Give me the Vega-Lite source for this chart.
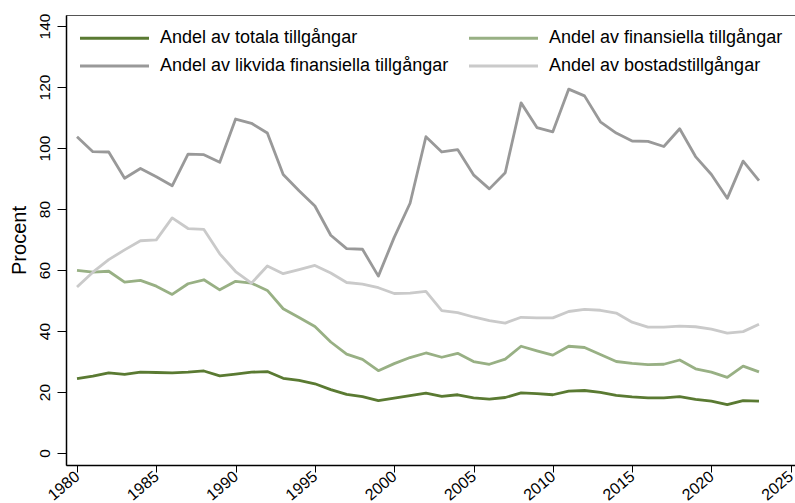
{
  "$schema": "https://vega.github.io/schema/vega-lite/v6.json",
  "width": 731,
  "height": 450,
  "autosize": {"type": "none"},
  "padding": {"left": 66, "top": 15, "right": 0, "bottom": 38},
  "background": "white",
  "config": {
    "view": {"stroke": "#555555", "strokeWidth": 1},
    "font": "Liberation Sans"
  },
  "data": {
    "values": [
      {"year":1980,"serie":"Andel av totala tillgångar","value":24.4},
      {"year":1981,"serie":"Andel av totala tillgångar","value":25.2},
      {"year":1982,"serie":"Andel av totala tillgångar","value":26.3},
      {"year":1983,"serie":"Andel av totala tillgångar","value":25.8},
      {"year":1984,"serie":"Andel av totala tillgångar","value":26.5},
      {"year":1985,"serie":"Andel av totala tillgångar","value":26.4},
      {"year":1986,"serie":"Andel av totala tillgångar","value":26.3},
      {"year":1987,"serie":"Andel av totala tillgångar","value":26.5},
      {"year":1988,"serie":"Andel av totala tillgångar","value":26.9},
      {"year":1989,"serie":"Andel av totala tillgångar","value":25.3},
      {"year":1990,"serie":"Andel av totala tillgångar","value":25.9},
      {"year":1991,"serie":"Andel av totala tillgångar","value":26.5},
      {"year":1992,"serie":"Andel av totala tillgångar","value":26.7},
      {"year":1993,"serie":"Andel av totala tillgångar","value":24.5},
      {"year":1994,"serie":"Andel av totala tillgångar","value":23.8},
      {"year":1995,"serie":"Andel av totala tillgångar","value":22.7},
      {"year":1996,"serie":"Andel av totala tillgångar","value":20.8},
      {"year":1997,"serie":"Andel av totala tillgångar","value":19.2},
      {"year":1998,"serie":"Andel av totala tillgångar","value":18.5},
      {"year":1999,"serie":"Andel av totala tillgångar","value":17.2},
      {"year":2000,"serie":"Andel av totala tillgångar","value":18.0},
      {"year":2001,"serie":"Andel av totala tillgångar","value":18.8},
      {"year":2002,"serie":"Andel av totala tillgångar","value":19.6},
      {"year":2003,"serie":"Andel av totala tillgångar","value":18.6},
      {"year":2004,"serie":"Andel av totala tillgångar","value":19.1},
      {"year":2005,"serie":"Andel av totala tillgångar","value":18.1},
      {"year":2006,"serie":"Andel av totala tillgångar","value":17.7},
      {"year":2007,"serie":"Andel av totala tillgångar","value":18.2},
      {"year":2008,"serie":"Andel av totala tillgångar","value":19.7},
      {"year":2009,"serie":"Andel av totala tillgångar","value":19.5},
      {"year":2010,"serie":"Andel av totala tillgångar","value":19.1},
      {"year":2011,"serie":"Andel av totala tillgångar","value":20.3},
      {"year":2012,"serie":"Andel av totala tillgångar","value":20.5},
      {"year":2013,"serie":"Andel av totala tillgångar","value":19.9},
      {"year":2014,"serie":"Andel av totala tillgångar","value":18.9},
      {"year":2015,"serie":"Andel av totala tillgångar","value":18.4},
      {"year":2016,"serie":"Andel av totala tillgångar","value":18.1},
      {"year":2017,"serie":"Andel av totala tillgångar","value":18.1},
      {"year":2018,"serie":"Andel av totala tillgångar","value":18.5},
      {"year":2019,"serie":"Andel av totala tillgångar","value":17.6},
      {"year":2020,"serie":"Andel av totala tillgångar","value":17.0},
      {"year":2021,"serie":"Andel av totala tillgångar","value":15.9},
      {"year":2022,"serie":"Andel av totala tillgångar","value":17.2},
      {"year":2023,"serie":"Andel av totala tillgångar","value":17.0},
      {"year":1980,"serie":"Andel av finansiella tillgångar","value":59.9},
      {"year":1981,"serie":"Andel av finansiella tillgångar","value":59.3},
      {"year":1982,"serie":"Andel av finansiella tillgångar","value":59.6},
      {"year":1983,"serie":"Andel av finansiella tillgångar","value":56.0},
      {"year":1984,"serie":"Andel av finansiella tillgångar","value":56.6},
      {"year":1985,"serie":"Andel av finansiella tillgångar","value":54.7},
      {"year":1986,"serie":"Andel av finansiella tillgångar","value":52.0},
      {"year":1987,"serie":"Andel av finansiella tillgångar","value":55.5},
      {"year":1988,"serie":"Andel av finansiella tillgångar","value":56.8},
      {"year":1989,"serie":"Andel av finansiella tillgångar","value":53.5},
      {"year":1990,"serie":"Andel av finansiella tillgångar","value":56.3},
      {"year":1991,"serie":"Andel av finansiella tillgångar","value":55.7},
      {"year":1992,"serie":"Andel av finansiella tillgångar","value":53.3},
      {"year":1993,"serie":"Andel av finansiella tillgångar","value":47.3},
      {"year":1994,"serie":"Andel av finansiella tillgångar","value":44.4},
      {"year":1995,"serie":"Andel av finansiella tillgångar","value":41.5},
      {"year":1996,"serie":"Andel av finansiella tillgångar","value":36.4},
      {"year":1997,"serie":"Andel av finansiella tillgångar","value":32.4},
      {"year":1998,"serie":"Andel av finansiella tillgångar","value":30.7},
      {"year":1999,"serie":"Andel av finansiella tillgångar","value":27.0},
      {"year":2000,"serie":"Andel av finansiella tillgångar","value":29.3},
      {"year":2001,"serie":"Andel av finansiella tillgångar","value":31.3},
      {"year":2002,"serie":"Andel av finansiella tillgångar","value":32.8},
      {"year":2003,"serie":"Andel av finansiella tillgångar","value":31.4},
      {"year":2004,"serie":"Andel av finansiella tillgångar","value":32.7},
      {"year":2005,"serie":"Andel av finansiella tillgångar","value":30.0},
      {"year":2006,"serie":"Andel av finansiella tillgångar","value":29.1},
      {"year":2007,"serie":"Andel av finansiella tillgångar","value":30.8},
      {"year":2008,"serie":"Andel av finansiella tillgångar","value":35.0},
      {"year":2009,"serie":"Andel av finansiella tillgångar","value":33.5},
      {"year":2010,"serie":"Andel av finansiella tillgångar","value":32.1},
      {"year":2011,"serie":"Andel av finansiella tillgångar","value":35.0},
      {"year":2012,"serie":"Andel av finansiella tillgångar","value":34.6},
      {"year":2013,"serie":"Andel av finansiella tillgångar","value":32.3},
      {"year":2014,"serie":"Andel av finansiella tillgångar","value":30.0},
      {"year":2015,"serie":"Andel av finansiella tillgångar","value":29.4},
      {"year":2016,"serie":"Andel av finansiella tillgångar","value":29.0},
      {"year":2017,"serie":"Andel av finansiella tillgångar","value":29.1},
      {"year":2018,"serie":"Andel av finansiella tillgångar","value":30.5},
      {"year":2019,"serie":"Andel av finansiella tillgångar","value":27.6},
      {"year":2020,"serie":"Andel av finansiella tillgångar","value":26.5},
      {"year":2021,"serie":"Andel av finansiella tillgångar","value":24.8},
      {"year":2022,"serie":"Andel av finansiella tillgångar","value":28.5},
      {"year":2023,"serie":"Andel av finansiella tillgångar","value":26.6},
      {"year":1980,"serie":"Andel av likvida finansiella tillgångar","value":103.7},
      {"year":1981,"serie":"Andel av likvida finansiella tillgångar","value":98.8},
      {"year":1982,"serie":"Andel av likvida finansiella tillgångar","value":98.7},
      {"year":1983,"serie":"Andel av likvida finansiella tillgångar","value":90.1},
      {"year":1984,"serie":"Andel av likvida finansiella tillgångar","value":93.3},
      {"year":1985,"serie":"Andel av likvida finansiella tillgångar","value":90.6},
      {"year":1986,"serie":"Andel av likvida finansiella tillgångar","value":87.6},
      {"year":1987,"serie":"Andel av likvida finansiella tillgångar","value":98.0},
      {"year":1988,"serie":"Andel av likvida finansiella tillgångar","value":97.8},
      {"year":1989,"serie":"Andel av likvida finansiella tillgångar","value":95.3},
      {"year":1990,"serie":"Andel av likvida finansiella tillgångar","value":109.5},
      {"year":1991,"serie":"Andel av likvida finansiella tillgångar","value":108.1},
      {"year":1992,"serie":"Andel av likvida finansiella tillgångar","value":104.9},
      {"year":1993,"serie":"Andel av likvida finansiella tillgångar","value":91.3},
      {"year":1994,"serie":"Andel av likvida finansiella tillgångar","value":86.0},
      {"year":1995,"serie":"Andel av likvida finansiella tillgångar","value":81.0},
      {"year":1996,"serie":"Andel av likvida finansiella tillgångar","value":71.4},
      {"year":1997,"serie":"Andel av likvida finansiella tillgångar","value":67.0},
      {"year":1998,"serie":"Andel av likvida finansiella tillgångar","value":66.8},
      {"year":1999,"serie":"Andel av likvida finansiella tillgångar","value":58.0},
      {"year":2000,"serie":"Andel av likvida finansiella tillgångar","value":70.7},
      {"year":2001,"serie":"Andel av likvida finansiella tillgångar","value":81.9},
      {"year":2002,"serie":"Andel av likvida finansiella tillgångar","value":103.7},
      {"year":2003,"serie":"Andel av likvida finansiella tillgångar","value":98.7},
      {"year":2004,"serie":"Andel av likvida finansiella tillgångar","value":99.5},
      {"year":2005,"serie":"Andel av likvida finansiella tillgångar","value":91.2},
      {"year":2006,"serie":"Andel av likvida finansiella tillgångar","value":86.6},
      {"year":2007,"serie":"Andel av likvida finansiella tillgångar","value":91.9},
      {"year":2008,"serie":"Andel av likvida finansiella tillgångar","value":114.8},
      {"year":2009,"serie":"Andel av likvida finansiella tillgångar","value":106.7},
      {"year":2010,"serie":"Andel av likvida finansiella tillgångar","value":105.3},
      {"year":2011,"serie":"Andel av likvida finansiella tillgångar","value":119.3},
      {"year":2012,"serie":"Andel av likvida finansiella tillgångar","value":117.1},
      {"year":2013,"serie":"Andel av likvida finansiella tillgångar","value":108.6},
      {"year":2014,"serie":"Andel av likvida finansiella tillgångar","value":104.9},
      {"year":2015,"serie":"Andel av likvida finansiella tillgångar","value":102.3},
      {"year":2016,"serie":"Andel av likvida finansiella tillgångar","value":102.2},
      {"year":2017,"serie":"Andel av likvida finansiella tillgångar","value":100.5},
      {"year":2018,"serie":"Andel av likvida finansiella tillgångar","value":106.3},
      {"year":2019,"serie":"Andel av likvida finansiella tillgångar","value":97.2},
      {"year":2020,"serie":"Andel av likvida finansiella tillgångar","value":91.3},
      {"year":2021,"serie":"Andel av likvida finansiella tillgångar","value":83.5},
      {"year":2022,"serie":"Andel av likvida finansiella tillgångar","value":95.7},
      {"year":2023,"serie":"Andel av likvida finansiella tillgångar","value":89.3},
      {"year":1980,"serie":"Andel av bostadstillgångar","value":54.4},
      {"year":1981,"serie":"Andel av bostadstillgångar","value":59.3},
      {"year":1982,"serie":"Andel av bostadstillgångar","value":63.4},
      {"year":1983,"serie":"Andel av bostadstillgångar","value":66.6},
      {"year":1984,"serie":"Andel av bostadstillgångar","value":69.6},
      {"year":1985,"serie":"Andel av bostadstillgångar","value":69.9},
      {"year":1986,"serie":"Andel av bostadstillgångar","value":77.1},
      {"year":1987,"serie":"Andel av bostadstillgångar","value":73.6},
      {"year":1988,"serie":"Andel av bostadstillgångar","value":73.3},
      {"year":1989,"serie":"Andel av bostadstillgångar","value":65.3},
      {"year":1990,"serie":"Andel av bostadstillgångar","value":59.5},
      {"year":1991,"serie":"Andel av bostadstillgångar","value":55.7},
      {"year":1992,"serie":"Andel av bostadstillgångar","value":61.3},
      {"year":1993,"serie":"Andel av bostadstillgångar","value":58.8},
      {"year":1994,"serie":"Andel av bostadstillgångar","value":60.1},
      {"year":1995,"serie":"Andel av bostadstillgångar","value":61.5},
      {"year":1996,"serie":"Andel av bostadstillgångar","value":59.0},
      {"year":1997,"serie":"Andel av bostadstillgångar","value":55.9},
      {"year":1998,"serie":"Andel av bostadstillgångar","value":55.4},
      {"year":1999,"serie":"Andel av bostadstillgångar","value":54.2},
      {"year":2000,"serie":"Andel av bostadstillgångar","value":52.3},
      {"year":2001,"serie":"Andel av bostadstillgångar","value":52.4},
      {"year":2002,"serie":"Andel av bostadstillgångar","value":53.0},
      {"year":2003,"serie":"Andel av bostadstillgångar","value":46.7},
      {"year":2004,"serie":"Andel av bostadstillgångar","value":46.0},
      {"year":2005,"serie":"Andel av bostadstillgångar","value":44.6},
      {"year":2006,"serie":"Andel av bostadstillgångar","value":43.4},
      {"year":2007,"serie":"Andel av bostadstillgångar","value":42.6},
      {"year":2008,"serie":"Andel av bostadstillgångar","value":44.5},
      {"year":2009,"serie":"Andel av bostadstillgångar","value":44.3},
      {"year":2010,"serie":"Andel av bostadstillgångar","value":44.3},
      {"year":2011,"serie":"Andel av bostadstillgångar","value":46.4},
      {"year":2012,"serie":"Andel av bostadstillgångar","value":47.1},
      {"year":2013,"serie":"Andel av bostadstillgångar","value":46.8},
      {"year":2014,"serie":"Andel av bostadstillgångar","value":45.9},
      {"year":2015,"serie":"Andel av bostadstillgångar","value":42.9},
      {"year":2016,"serie":"Andel av bostadstillgångar","value":41.3},
      {"year":2017,"serie":"Andel av bostadstillgångar","value":41.3},
      {"year":2018,"serie":"Andel av bostadstillgångar","value":41.6},
      {"year":2019,"serie":"Andel av bostadstillgångar","value":41.4},
      {"year":2020,"serie":"Andel av bostadstillgångar","value":40.6},
      {"year":2021,"serie":"Andel av bostadstillgångar","value":39.3},
      {"year":2022,"serie":"Andel av bostadstillgångar","value":39.8},
      {"year":2023,"serie":"Andel av bostadstillgångar","value":42.2}
    ]
  },
  "mark": {"type": "line", "strokeWidth": 2.8, "strokeJoin": "round"},
  "encoding": {
    "x": {
      "field": "year",
      "type": "quantitative",
      "scale": {"domain": [1979.306, 2025.397], "nice": false, "zero": false},
      "axis": {
        "values": [1980, 1985, 1990, 1995, 2000, 2005, 2010, 2015, 2020, 2025],
        "format": "d",
        "title": null,
        "grid": false,
        "domainColor": "#000000",
        "domainWidth": 1.5,
        "tickColor": "#000000",
        "tickSize": 7,
        "labelAngle": -40,
        "labelAlign": "right",
        "labelBaseline": "middle",
        "labelFontSize": 16,
        "labelColor": "#000000",
        "labelPadding": 2,
        "labelFlush": false,
        "labelOverlap": false
      }
    },
    "y": {
      "field": "value",
      "type": "quantitative",
      "scale": {"domain": [-3.93, 143.61], "nice": false, "zero": false},
      "axis": {
        "values": [0, 20, 40, 60, 80, 100, 120, 140],
        "title": "Procent",
        "titleFontSize": 20,
        "titleFontWeight": "normal",
        "titleColor": "#000000",
        "titlePadding": 8,
        "grid": false,
        "domainColor": "#000000",
        "domainWidth": 1.5,
        "tickColor": "#000000",
        "tickSize": 9,
        "labelAngle": -90,
        "labelAlign": "center",
        "labelBaseline": "bottom",
        "labelFontSize": 15.5,
        "labelColor": "#000000",
        "labelPadding": 5,
        "labelFlush": false,
        "labelOverlap": false
      }
    },
    "color": {
      "field": "serie",
      "type": "nominal",
      "sort": ["Andel av totala tillgångar", "Andel av finansiella tillgångar", "Andel av likvida finansiella tillgångar", "Andel av bostadstillgångar"],
      "scale": {
        "domain": ["Andel av totala tillgångar", "Andel av finansiella tillgångar", "Andel av likvida finansiella tillgångar", "Andel av bostadstillgångar"],
        "range": ["#5a7a32", "#98b084", "#999999", "#cacaca"]
      },
      "legend": {
        "title": null,
        "orient": "none",
        "legendX": 38,
        "legendY": 12.5,
        "columns": 2,
        "direction": "horizontal",
        "padding": 0,
        "symbolType": "M-4,0H4",
        "symbolSize": 297.6,
        "symbolStrokeWidth": 3,
        "labelFontSize": 18,
        "labelColor": "#000000",
        "labelOffset": 35,
        "labelLimit": 500,
        "columnPadding": 13,
        "rowPadding": 8
      }
    }
  }
}
